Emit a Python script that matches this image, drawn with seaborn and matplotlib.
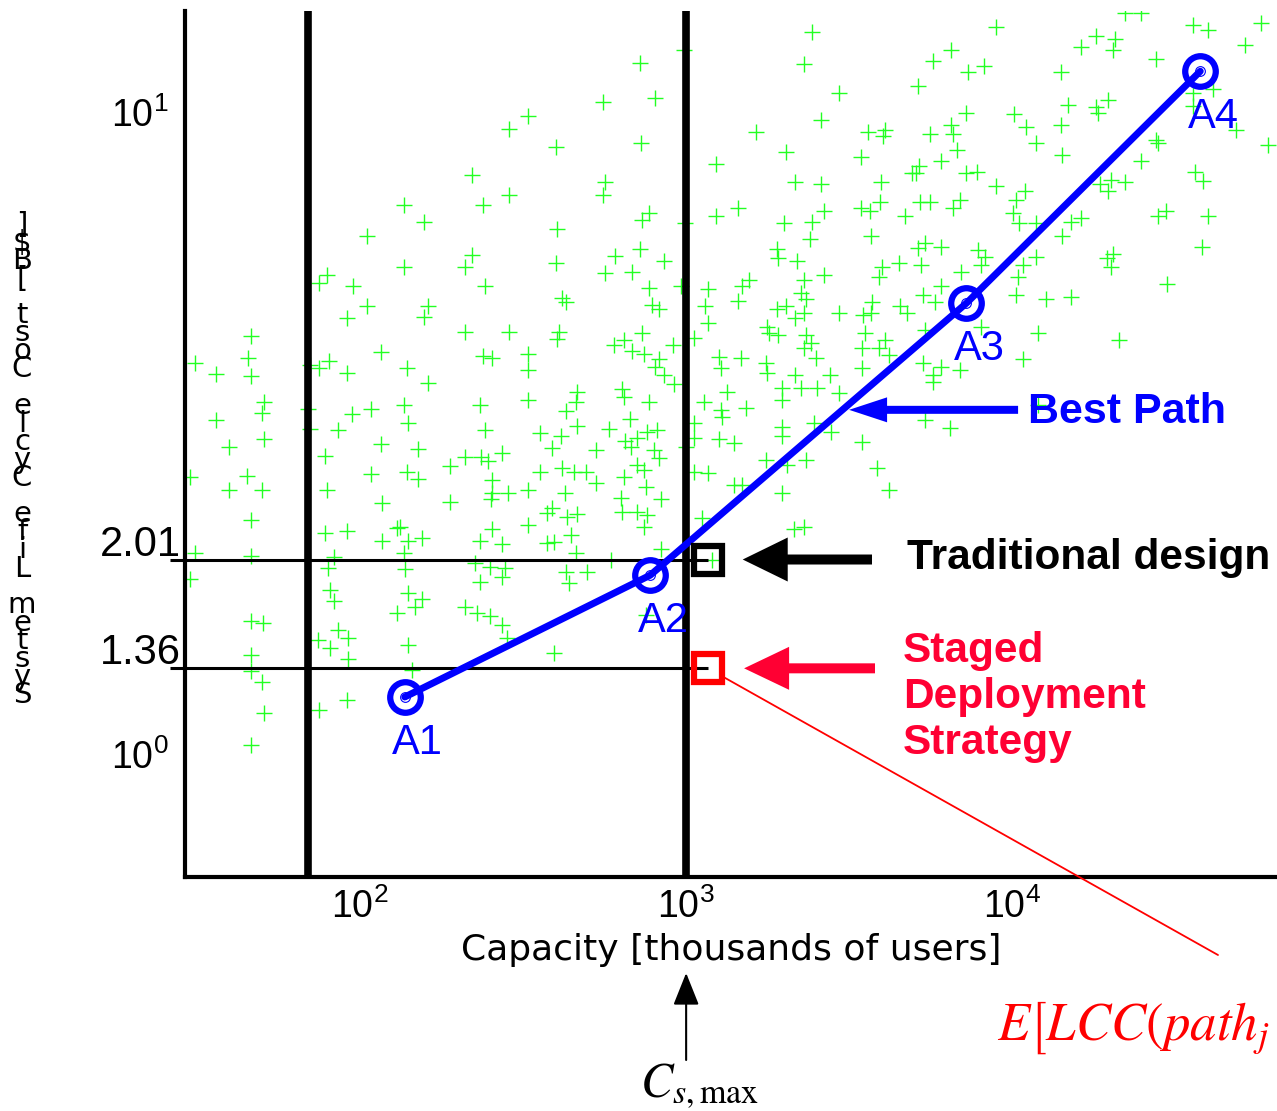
import numpy as np
import pandas as pd
import matplotlib
matplotlib.use("Agg")
import matplotlib.pyplot as plt
from matplotlib.patches import ArrowStyle
from matplotlib.ticker import NullFormatter
import seaborn as sns

# ---------------- data (log10 of capacity [k users] and log10 of LCC [B$]) -------------
cap_log_a = [2.515, 2.457, 2.344, 2.457, 2.135, 2.377, 2.196, 2.021, 2.344, 2.135,
             2.322, 1.899, 1.874, 1.979, 2.383, 2.021, 2.209, 2.196, 1.960, 2.322,
             2.457, 1.666, 2.064, 1.656, 2.377, 2.405, 2.515, 1.494, 1.905, 1.874,
             2.144, 2.515, 1.558, 1.666, 1.960, 1.847]
cost_log_a = [0.994, 0.975, 0.903, 0.872, 0.856, 0.856, 0.830, 0.808, 0.778, 0.760,
              0.760, 0.747, 0.735, 0.730, 0.729, 0.699, 0.699, 0.682, 0.679, 0.658,
              0.658, 0.652, 0.627, 0.618, 0.621, 0.618, 0.624, 0.610, 0.612, 0.601,
              0.601, 0.598, 0.593, 0.590, 0.594, 0.607]

cap_log_b = [3.387, 3.362, 2.859, 2.994, 2.745, 2.905, 3.469, 3.414, 3.215, 3.558,
             3.610, 3.604, 2.862, 2.601, 3.307, 3.092, 3.537, 3.693, 2.752, 2.745,
             3.334, 3.414, 3.598, 3.595, 3.160, 3.092, 3.537, 3.564, 3.423, 3.672,
             2.887, 2.865, 2.997, 3.301, 3.387, 2.604, 3.380, 3.567, 3.279, 3.282,
             3.340, 2.859, 2.782, 2.933, 2.601, 2.752, 2.834, 3.423, 3.362, 3.601,
             3.653, 3.592, 3.193, 3.172, 3.067, 2.887, 2.985, 3.353, 3.368, 2.620,
             2.632, 2.896, 2.917, 3.058, 3.160, 3.307, 3.279, 3.362, 3.334, 3.469,
             3.543, 3.567, 3.571, 3.656, 3.678, 3.067, 2.610, 2.604, 3.248, 3.255,
             3.282, 3.368, 2.865, 2.779, 2.810, 2.834, 2.871, 2.917, 2.905, 2.960,
             3.025, 3.383, 3.362, 3.399, 3.540, 3.549, 3.610, 3.592, 3.623, 3.101,
             3.107, 3.169, 3.245, 3.248, 3.334, 3.442, 3.540, 2.933]
cost_log_b = [1.125, 1.075, 1.078, 1.098, 1.017, 1.023, 1.031, 0.989, 0.969, 0.970,
              0.973, 0.963, 0.953, 0.947, 0.939, 0.920, 0.931, 0.906, 0.891, 0.871,
              0.891, 0.888, 0.891, 0.861, 0.852, 0.838, 0.852, 0.846, 0.846, 0.838,
              0.844, 0.832, 0.828, 0.828, 0.830, 0.819, 0.803, 0.807, 0.788, 0.774,
              0.768, 0.788, 0.777, 0.768, 0.766, 0.750, 0.752, 0.747, 0.739, 0.760,
              0.766, 0.743, 0.739, 0.729, 0.725, 0.727, 0.729, 0.719, 0.710, 0.711,
              0.704, 0.700, 0.693, 0.699, 0.707, 0.699, 0.693, 0.688, 0.679, 0.688,
              0.685, 0.688, 0.705, 0.699, 0.688, 0.672, 0.658, 0.647, 0.665, 0.657,
              0.654, 0.654, 0.657, 0.638, 0.646, 0.629, 0.624, 0.616, 0.604, 0.638,
              0.649, 0.641, 0.633, 0.618, 0.633, 0.657, 0.646, 0.633, 0.622, 0.619,
              0.601, 0.618, 0.610, 0.594, 0.591, 0.591, 0.602, 0.591]

cap_log_c = [4.347, 4.396, 4.555, 4.601, 4.764, 4.715, 3.951, 3.813, 3.758, 4.258,
             4.316, 4.212, 4.310, 4.442, 3.914, 3.865, 4.150, 3.712, 4.172, 4.294,
             4.258, 4.264, 3.859, 4.006, 4.043, 4.150, 3.813, 3.748, 3.819, 4.074,
             3.831, 4.153, 4.442, 4.448, 4.785, 3.782, 3.715, 3.706, 3.859, 3.893,
             4.396, 4.561, 4.586, 3.951, 4.304, 4.270, 4.294, 4.347, 4.040, 4.012,
             3.718, 3.748, 3.840, 3.819, 4.003, 4.021, 4.074, 4.181, 4.212, 4.472,
             4.448, 4.601, 4.153, 4.583, 3.782, 3.733, 3.712, 3.896, 3.917, 3.905,
             3.721, 4.074, 4.034, 4.018, 4.310, 4.291, 4.304, 4.475, 3.844, 3.782,
             3.727, 3.764, 4.012, 4.104, 4.181, 3.905, 3.733, 4.080, 4.328, 4.034,
             3.727, 3.782, 3.840, 3.758, 4.555, 4.617, 4.555, 4.687]
cost_log_c = [1.156, 1.156, 1.137, 1.129, 1.140, 1.105, 1.133, 1.098, 1.081, 1.119,
              1.114, 1.103, 1.098, 1.084, 1.072, 1.064, 1.064, 1.041, 1.012, 1.020,
              1.008, 1.000, 1.000, 0.997, 0.977, 0.980, 0.980, 0.966, 0.966, 0.953,
              0.942, 0.934, 0.958, 0.953, 0.949, 0.924, 0.917, 0.906, 0.906, 0.908,
              0.925, 0.908, 0.894, 0.886, 0.895, 0.888, 0.877, 0.891, 0.877, 0.864,
              0.861, 0.861, 0.864, 0.852, 0.844, 0.828, 0.828, 0.830, 0.836, 0.847,
              0.838, 0.839, 0.808, 0.791, 0.791, 0.797, 0.789, 0.786, 0.775, 0.763,
              0.763, 0.775, 0.763, 0.744, 0.780, 0.774, 0.760, 0.733, 0.752, 0.730,
              0.715, 0.704, 0.715, 0.710, 0.713, 0.665, 0.661, 0.657, 0.646, 0.616,
              0.610, 0.604, 0.598, 0.591, 1.031, 1.037, 1.011, 0.973]

cap_log_d = [1.558, 1.706, 1.699, 1.706, 1.598, 1.479, 1.653, 1.598, 1.699, 1.666,
             1.494, 1.666, 1.479, 1.666, 1.702, 1.666, 1.666, 1.699, 1.706, 1.666,
             1.840, 1.847, 1.975, 2.034, 2.135, 2.147, 1.933, 1.893, 2.064, 2.178,
             2.034, 2.144, 2.178, 1.899, 2.067, 2.368, 2.515, 2.383, 2.552, 2.322,
             2.371, 2.393, 2.436, 2.276, 2.552, 2.405, 2.405, 2.402, 2.454, 2.515,
             2.276, 2.209, 1.893, 1.960, 2.123, 2.113, 2.067, 2.147, 2.190, 2.135,
             2.368, 2.405, 2.436, 2.515, 1.920, 1.902, 2.138, 2.353, 2.399, 2.445,
             2.436, 2.368, 1.908, 1.920, 2.147, 2.190, 2.169, 2.113, 2.322, 2.359,
             2.399, 2.436, 2.451, 1.933, 1.963, 1.871, 1.908, 1.963, 2.147, 2.160,
             1.960, 1.874, 2.574, 2.574]
cost_log_d = [0.521, 0.548, 0.532, 0.491, 0.479, 0.432, 0.434, 0.412, 0.412, 0.365,
              0.314, 0.309, 0.273, 0.207, 0.204, 0.154, 0.129, 0.112, 0.064, 0.014,
              0.538, 0.507, 0.530, 0.538, 0.544, 0.516, 0.505, 0.465, 0.484, 0.476,
              0.437, 0.440, 0.429, 0.412, 0.392, 0.544, 0.552, 0.505, 0.501, 0.463,
              0.463, 0.457, 0.470, 0.449, 0.440, 0.427, 0.407, 0.398, 0.407, 0.412,
              0.393, 0.579, 0.345, 0.348, 0.354, 0.353, 0.332, 0.332, 0.337, 0.314,
              0.332, 0.351, 0.328, 0.357, 0.307, 0.290, 0.289, 0.298, 0.292, 0.290,
              0.276, 0.268, 0.256, 0.239, 0.251, 0.242, 0.229, 0.220, 0.229, 0.220,
              0.215, 0.201, 0.181, 0.193, 0.181, 0.178, 0.165, 0.148, 0.170, 0.131,
              0.084, 0.069, 0.376, 0.329]

cap_log_e = [2.666, 2.663, 2.804, 2.810, 2.887, 2.632, 2.828, 2.666, 2.764, 2.617,
             2.589, 2.724, 2.813, 2.850, 2.880, 2.911, 2.902, 2.917, 2.831, 2.620,
             2.656, 2.693, 2.850, 2.871, 2.810, 2.724, 2.629, 2.877, 2.923, 2.801,
             2.589, 2.635, 2.666, 2.804, 2.850, 2.880, 2.871, 2.647, 2.595, 2.663,
             2.770, 2.923, 2.632, 2.696, 2.641, 2.595, 2.877, 2.963, 3.055, 3.107,
             3.110, 3.126, 3.184, 3.025, 3.025, 3.101, 3.147, 3.000, 3.025, 3.067,
             3.147, 3.172, 3.049, 3.294, 3.294, 3.353, 3.402, 3.469, 3.393, 3.445,
             3.294, 3.294, 3.245, 3.310, 3.368, 3.294, 3.540, 3.586, 3.623, 3.331,
             3.362, 3.080, 3.733, 3.810, 3.758, 4.080]
cost_log_e = [0.565, 0.549, 0.569, 0.557, 0.549, 0.534, 0.523, 0.512, 0.507, 0.495,
              0.477, 0.474, 0.488, 0.493, 0.502, 0.505, 0.474, 0.462, 0.479, 0.446,
              0.440, 0.440, 0.451, 0.443, 0.432, 0.423, 0.407, 0.417, 0.398, 0.399,
              0.384, 0.370, 0.374, 0.378, 0.378, 0.373, 0.354, 0.342, 0.331, 0.314,
              0.303, 0.320, 0.284, 0.284, 0.267, 0.158, 0.217, 0.577, 0.548, 0.537,
              0.526, 0.565, 0.540, 0.516, 0.493, 0.491, 0.485, 0.479, 0.440, 0.438,
              0.420, 0.420, 0.368, 0.552, 0.571, 0.571, 0.571, 0.563, 0.516, 0.502,
              0.510, 0.495, 0.459, 0.451, 0.459, 0.407, 0.487, 0.446, 0.412, 0.351,
              0.354, 0.303, 0.521, 0.509, 0.580, 0.544]

path_labels = ["A1", "A2", "A3", "A4"]
path_cap = [137, 776, 7230, 37800]
path_cost = [1.227, 1.90, 5.04, 11.6]

cap_limits = [69, 1000]          # vertical lines (C_s,max at 1000)
design_cap = 1167                # capacity of the two square markers
trad_cost = 2.01
staged_cost = 1.36
arrow_tip = (3162, 3.44)         # "Best Path" arrow tip on the path

# ---------------- style ----------------
sns.set_theme(style="white")
plt.rcParams["font.family"] = ["Liberation Sans", "DejaVu Sans"]
plt.rcParams["axes.unicode_minus"] = False

W, H = 1277, 1111
fig = plt.figure(figsize=(W / 100, H / 100), dpi=100)
ax = fig.add_axes([185 / W, (H - 877) / H, (W - 185) / W, (877 - 11) / H])
ax.set_xscale("log")
ax.set_yscale("log")
ax.set_xlim(29.0, 65000)
ax.set_ylim(0.643, 14.4)

cap_log = cap_log_a + cap_log_b + cap_log_c + cap_log_d + cap_log_e
cost_log = cost_log_a + cost_log_b + cost_log_c + cost_log_d + cost_log_e
scatter_df = pd.DataFrame({"capacity": 10 ** np.array(cap_log),
                           "lcc": 10 ** np.array(cost_log)})
sns.scatterplot(data=scatter_df, x="capacity", y="lcc", marker="+",
                color="#22ff22", s=125, linewidth=1.0, ax=ax, legend=False,
                zorder=1)

for c in cap_limits:
    ax.axvline(c, color="black", lw=5.5, zorder=2)

ax.hlines([trad_cost, staged_cost], 26, design_cap, colors="black", lw=2.2,
          clip_on=False, zorder=3)

path_df = pd.DataFrame({"capacity": path_cap, "lcc": path_cost})
sns.lineplot(data=path_df, x="capacity", y="lcc", sort=False, estimator=None,
             color="#0000ff", lw=5, ax=ax, zorder=4)
ax.plot(path_cap, path_cost, "o", ms=22, mfc="none", mec="#0000ff", mew=4.5,
        zorder=5)
ax.plot(path_cap, path_cost, "o", ms=7, mfc="none", mec="#0000ff", mew=0.8,
        zorder=5)
for lbl, x, y in zip(path_labels, path_cap, path_cost):
    ax.annotate(lbl, (x, y), xytext=(13, -46), textcoords="offset pixels",
                ha="center", va="center", fontsize=30, color="#0000ff")

ax.plot([design_cap], [trad_cost], "s", ms=20, mfc="none", mec="black",
        mew=4.5, zorder=6)
ax.plot([design_cap], [staged_cost], "s", ms=20, mfc="none", mec="#ff0000",
        mew=4.5, zorder=6)

# value labels at left of the axis
for val in [trad_cost, staged_cost]:
    ax.annotate(f"{val:.2f}", xy=(0, val), xycoords=("axes fraction", "data"),
                xytext=(-4, 4), textcoords="offset pixels", ha="right",
                va="baseline", fontsize=30, color="black", annotation_clip=False)

# arrows (units of mutation_scale ~ 10 px)
ms_unit = 7.2
ax.annotate("", xy=(design_cap, trad_cost), xytext=(164, 0),
            textcoords="offset pixels",
            arrowprops=dict(arrowstyle=ArrowStyle.Simple(head_length=4.5, head_width=4.4, tail_width=1.0),
                            mutation_scale=ms_unit, color="black", lw=0,
                            shrinkA=0, shrinkB=25))
ax.annotate("", xy=(design_cap, staged_cost), xytext=(167, 0),
            textcoords="offset pixels",
            arrowprops=dict(arrowstyle=ArrowStyle.Simple(head_length=4.5, head_width=4.3, tail_width=1.0),
                            mutation_scale=ms_unit, color="#ff0033", lw=0,
                            shrinkA=0, shrinkB=26))
ax.annotate("", xy=arrow_tip, xytext=(169, 0), textcoords="offset pixels",
            arrowprops=dict(arrowstyle=ArrowStyle.Simple(head_length=3.8, head_width=2.5, tail_width=0.8),
                            mutation_scale=ms_unit, color="#0000ff", lw=0,
                            shrinkA=0, shrinkB=0))

# thin red leader line to the expectation formula
ax.annotate("", xy=(design_cap, staged_cost), xytext=(1218, H - 955),
            textcoords="figure pixels",
            arrowprops=dict(arrowstyle="-", color="#ff0000", lw=1.3,
                            shrinkA=0, shrinkB=13))

# C_s,max arrow
ax.annotate("", xy=(cap_limits[1], H - 973), xycoords=("data", "figure pixels"),
            xytext=(cap_limits[1], H - 1060), textcoords=("data", "figure pixels"),
            arrowprops=dict(arrowstyle="-|>,head_length=1.0,head_width=0.4",
                            mutation_scale=20, color="black", lw=1.5,
                            shrinkA=0, shrinkB=0), annotation_clip=False)

fig.text(1028 / W, 1 - 412 / H, "Best Path", ha="left", va="center",
         fontsize=31, fontweight="bold", color="#0000ff")
fig.text(907 / W, 1 - 558 / H, "Traditional design", ha="left", va="center",
         fontsize=30.5, fontweight="bold", color="black")
fig.text(903 / W, 1 - 697 / H, "Staged\nDeployment\nStrategy", ha="left",
         va="center", fontsize=30.5, fontweight="bold", color="#ff0033",
         linespacing=1.2)
fig.text(997 / W, 71 / H, r"$E\left[LCC(path_j\right.$", ha="left",
         va="baseline", fontsize=38, color="#ff0000", math_fontfamily="stix")
fig.text(640 / W, 13 / H, r"$C_{s,\max}$", ha="left", va="baseline",
         fontsize=35, color="black", math_fontfamily="stix")

# axis labels
ax.set_xlabel("Capacity [thousands of users]", fontsize=26,
              family="DejaVu Sans", color="black", labelpad=5)
ylabel_text = "System Life Cycle Cost [B$]"
fig.text(22 / W, 1 - 460 / H, "\n".join(reversed(ylabel_text)), ha="center",
         va="center", ma="center", fontsize=21, family="DejaVu Sans",
         color="black", linespacing=0.55)
ax.set_ylabel("")

# spines & ticks
for side in ["top", "right"]:
    ax.spines[side].set_visible(False)
for side in ["left", "bottom"]:
    ax.spines[side].set_linewidth(3)
    ax.spines[side].set_color("black")
ax.tick_params(which="major", direction="in", length=7, width=1.6,
               colors="black", labelsize=27)
ax.tick_params(which="minor", direction="in", length=2.5, width=1.6,
               colors="black")
ax.tick_params(axis="x", which="major", pad=8)
ax.tick_params(axis="y", which="major", pad=12)
ax.xaxis.set_minor_formatter(NullFormatter())
ax.yaxis.set_minor_formatter(NullFormatter())
ax.set_facecolor("white")

fig.savefig("out.png", dpi=100, facecolor="white")
